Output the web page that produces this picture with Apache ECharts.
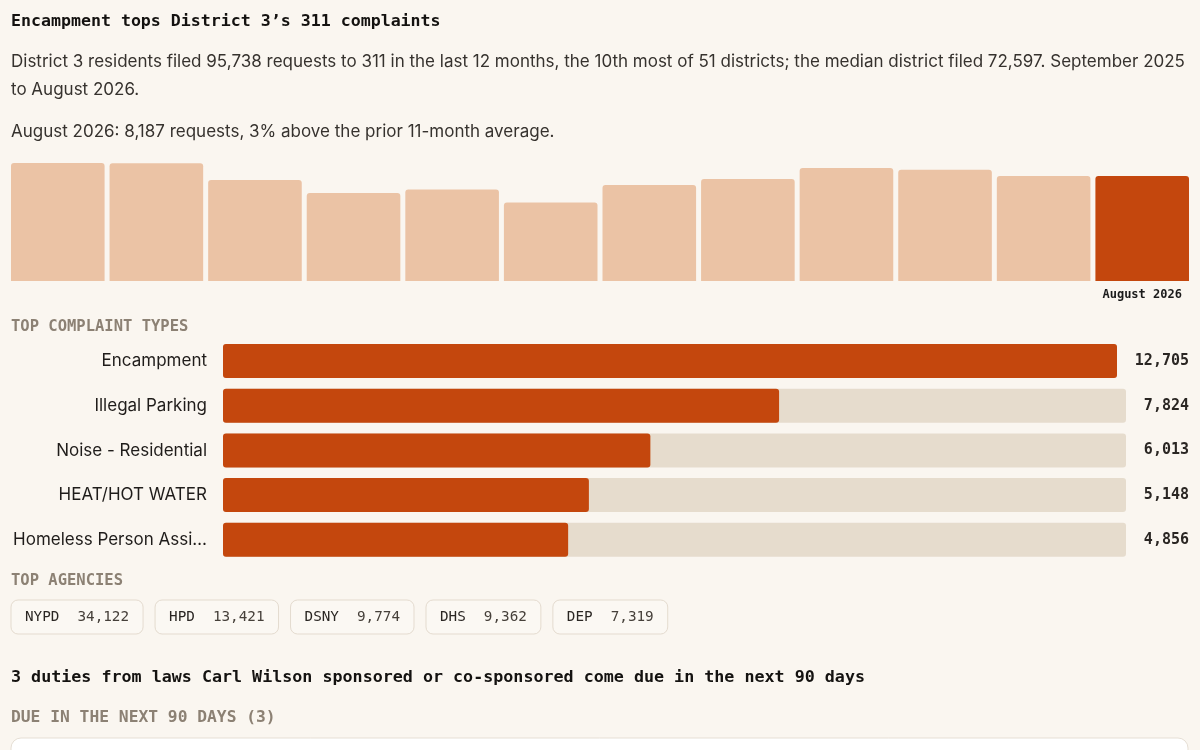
<!DOCTYPE html>
<html><head><meta charset="utf-8">
<script src="https://cdn.jsdelivr.net/npm/echarts@6/dist/echarts.min.js"></script>
<style>html,body{margin:0;padding:0;background:#faf6f0;}#c{width:1200px;height:750px;}</style>
</head><body><div id="c"></div>
<script>
const titleText = 'Encampment tops District 3\u2019s 311 complaints';
const summaryLine1 = 'District 3 residents filed 95,738 requests to 311 in the last 12 months, the 10th most of 51 districts; the median district filed 72,597. September 2025';
const summaryLine2 = 'to August 2026.';
const latestNote = 'August 2026: 8,187 requests, 3% above the prior 11-month average.';
const months = ['September 2025','October 2025','November 2025','December 2025','January 2026','February 2026','March 2026','April 2026','May 2026','June 2026','July 2026','August 2026'];
const monthlyRequests = [9210, 9195, 7880, 6860, 7145, 6125, 7490, 7955, 8820, 8680, 8191, 8187];
const complaintSectionLabel = 'TOP COMPLAINT TYPES';
const complaintTypes = ['Encampment','Illegal Parking','Noise - Residential','HEAT/HOT WATER','Homeless Person Assistance'];
const complaintCounts = [12705, 7824, 6013, 5148, 4856];
const agencySectionLabel = 'TOP AGENCIES';
const agencies = ['NYPD','HPD','DSNY','DHS','DEP'];
const agencyCounts = [34122, 13421, 9774, 9362, 7319];
const dutiesHeading = '3 duties from laws Carl Wilson sponsored or co-sponsored come due in the next 90 days';
const dueLabel = 'DUE IN THE NEXT 90 DAYS (3)';

const MONO = '"DejaVu Sans Mono", "Liberation Mono", monospace';
const SANS = 'Inter, "Liberation Sans", Arial, sans-serif';
const ORANGE = '#c4470d', LIGHT = '#ebc3a5', TRACK = '#e6dccd', BG = '#faf6f0';
const fmt = v => v.toLocaleString('en-US');

const chart = echarts.init(document.getElementById('c'), null, {renderer: 'canvas'});

const mctx = document.createElement('canvas').getContext('2d');
function measure(text, font) { mctx.font = font; return mctx.measureText(text).width; }

// agency chips
const chipFont = '14.3px ' + MONO;
const chips = [];
let cx = 11;
agencies.forEach((a, i) => {
  const num = fmt(agencyCounts[i]);
  const wName = measure(a, chipFont), wNum = measure(num, chipFont);
  const w = 14 + wName + 18 + wNum + 14;
  chips.push({type: 'rect', shape: {x: cx, y: 600, width: w, height: 34, r: 7},
    style: {fill: '#fbf8f3', stroke: '#e4dbcf', lineWidth: 1}});
  chips.push({type: 'text', x: cx + 14, y: 617, style: {text: a, font: chipFont, fill: '#2a2623', verticalAlign: 'middle'}});
  chips.push({type: 'text', x: cx + 14 + wName + 18, y: 617, style: {text: num, font: chipFont, fill: '#46403a', verticalAlign: 'middle'}});
  cx += w + 12;
});

const txt = (text, x, y, font, fill) => ({type: 'text', x, y, style: {text, font, fill, verticalAlign: 'middle'}});

const option = {
  backgroundColor: BG,
  animation: false,
  grid: [
    {left: 8.5, right: 8.5, top: 163, height: 118},
    {left: 223, right: 83, top: 344, height: 34},
    {left: 223, right: 74, top: 383.5, height: 178.5}
  ],
  xAxis: [
    {gridIndex: 0, type: 'category', data: months, axisLine: {show: false}, axisTick: {show: false},
     axisLabel: {interval: 0, margin: 8, fontFamily: MONO, fontWeight: 'bold', fontSize: 12, color: '#1a1a1a',
       formatter: (v, i) => i === months.length - 1 ? v : ''}},
    {gridIndex: 1, type: 'value', min: 0, max: complaintCounts[0], show: false},
    {gridIndex: 2, type: 'value', min: 0, max: complaintCounts[0], show: false}
  ],
  yAxis: [
    {gridIndex: 0, type: 'value', min: 0, max: Math.max(...monthlyRequests), show: false},
    {gridIndex: 1, type: 'category', inverse: true, data: complaintTypes.slice(0, 1),
     axisLine: {show: false}, axisTick: {show: false},
     axisLabel: {margin: 16, fontFamily: SANS, fontSize: 17, color: '#1f1c1a', width: 197, overflow: 'truncate', ellipsis: '\u2026'}},
    {gridIndex: 1, type: 'category', position: 'right', inverse: true, data: complaintTypes.slice(0, 1),
     axisLine: {show: false}, axisTick: {show: false},
     axisLabel: {margin: 72, align: 'right', fontFamily: MONO, fontWeight: 'bold', fontSize: 15, color: '#2a2623',
       formatter: v => fmt(complaintCounts[complaintTypes.indexOf(v)])}},
    {gridIndex: 2, type: 'category', inverse: true, data: complaintTypes.slice(1),
     axisLine: {show: false}, axisTick: {show: false},
     axisLabel: {margin: 16, fontFamily: SANS, fontSize: 17, color: '#1f1c1a', width: 197, overflow: 'truncate', ellipsis: '\u2026'}},
    {gridIndex: 2, type: 'category', position: 'right', inverse: true, data: complaintTypes.slice(1),
     axisLine: {show: false}, axisTick: {show: false},
     axisLabel: {margin: 63, align: 'right', fontFamily: MONO, fontWeight: 'bold', fontSize: 15, color: '#2a2623',
       formatter: v => fmt(complaintCounts[complaintTypes.indexOf(v)])}}
  ],
  series: [
    {type: 'bar', xAxisIndex: 0, yAxisIndex: 0, barWidth: 93.6, silent: true,
     itemStyle: {borderRadius: [3, 3, 0, 0]},
     data: monthlyRequests.map((v, i) => ({value: v, itemStyle: {color: i === monthlyRequests.length - 1 ? ORANGE : LIGHT}}))},
    {type: 'bar', xAxisIndex: 1, yAxisIndex: 1, barWidth: 34, silent: true, itemStyle: {color: TRACK, borderRadius: 3},
     data: complaintCounts.slice(0, 1).map(() => complaintCounts[0])},
    {type: 'bar', xAxisIndex: 1, yAxisIndex: 1, barWidth: 34, barGap: '-100%', silent: true, itemStyle: {color: ORANGE, borderRadius: 3},
     data: complaintCounts.slice(0, 1)},
    {type: 'bar', xAxisIndex: 2, yAxisIndex: 3, barWidth: 34, silent: true, itemStyle: {color: TRACK, borderRadius: 3},
     data: complaintCounts.slice(1).map(() => complaintCounts[0])},
    {type: 'bar', xAxisIndex: 2, yAxisIndex: 3, barWidth: 34, barGap: '-100%', silent: true, itemStyle: {color: ORANGE, borderRadius: 3},
     data: complaintCounts.slice(1)}
  ],
  graphic: [
    txt(titleText, 11, 22, 'bold 16.6px ' + MONO, '#141210'),
    txt(summaryLine1, 11, 62, '17px ' + SANS, '#36322e'),
    txt(summaryLine2, 11, 90, '17px ' + SANS, '#36322e'),
    txt(latestNote, 11, 132, '17px ' + SANS, '#36322e'),
    txt(complaintSectionLabel, 11, 327, 'bold 15.5px ' + MONO, '#8c8174'),
    txt(agencySectionLabel, 11, 581, 'bold 15.5px ' + MONO, '#8c8174'),
    ...chips,
    txt(dutiesHeading, 11, 678, 'bold 16.7px ' + MONO, '#141210'),
    txt(dueLabel, 11, 718, 'bold 16.3px ' + MONO, '#8c8174'),
    {type: 'rect', shape: {x: 11, y: 738, width: 1177, height: 40, r: 10}, style: {fill: '#ffffff', stroke: '#e6dfd5', lineWidth: 1}}
  ]
};
chart.setOption(option);
</script></body></html>
